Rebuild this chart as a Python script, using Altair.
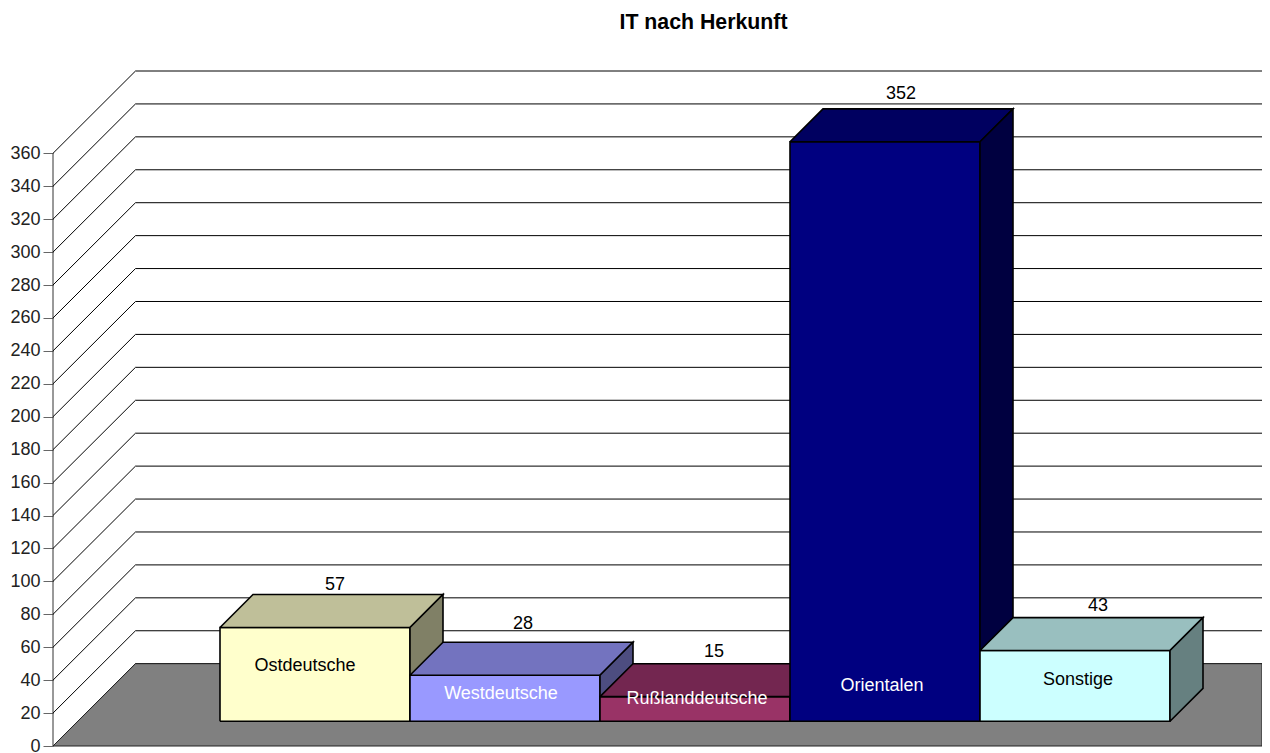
import altair as alt
import pandas as pd

FONT = "Liberation Sans"
title_text = "IT nach Herkunft"
categories = ["Ostdeutsche", "Westdeutsche", "Rußlanddeutsche", "Orientalen", "Sonstige"]
values = [57, 28, 15, 352, 43]
ticks = list(range(0, 361, 20))

front_colors = ["#FFFFCC", "#9999FF", "#993366", "#000080", "#CCFFFF"]
top_colors = ["#BFBF99", "#7373BF", "#732650", "#000060", "#99BFBF"]
side_colors = ["#808066", "#4D4D80", "#4D1A33", "#000040", "#668080"]
label_colors = ["black", "white", "white", "white", "black"]

# geometry of the pseudo-3D box, in data units
SLOT_PX = 190.0
W = 1209
X_MAX = W / SLOT_PX
H = 675
Y_MAX = 410
WALL_X = 82.5 / SLOT_PX
WALL_Y = 50
FIRST_BAR = 167 / SLOT_PX
BASE = 15
DEPTH_X = 33 / SLOT_PX
DEPTH_Y = 20
PX_Y = Y_MAX / H

# label placement (px offsets)
name_dx = [-10, -4, 2, -3, 3]
name_y_px = [80.5, 52.5, 47.5, 60.5, 66.5]
value_dx = [20, 18, 19, 16, 23]
value_lift_px = [10, 18, 11.5, 15, 12]

x_enc = alt.X("x:Q", axis=None, scale=alt.Scale(domain=[0, X_MAX], nice=False, zero=False))
y_scale = alt.Scale(domain=[0, Y_MAX], nice=False, zero=False)
y_enc = alt.Y(
    "y:Q",
    scale=y_scale,
    axis=alt.Axis(
        values=ticks, title=None, grid=False, domain=False, tickSize=10, tickWidth=1,
        tickColor="#666666", labelFontSize=18, labelFont=FONT, labelColor="#222222",
        labelPadding=3, labelFlush=False, labelOverlap=False,
    ),
)


def poly(points, color):
    pts = list(points) + [points[0]]
    df = pd.DataFrame({"x": [p[0] for p in pts], "y": [p[1] for p in pts], "i": range(len(pts))})
    return (
        alt.Chart(df)
        .mark_line(fill=color, stroke="black", strokeWidth=1.6, strokeJoin="miter", clip=False)
        .encode(x=x_enc, y=y_enc, order=alt.Order("i:Q"))
    )


layers = []

# side axis line
layers.append(
    alt.Chart(pd.DataFrame({"x": [0, 0], "y": [0, ticks[-1]], "i": [0, 1]}))
    .mark_line(stroke="#333333", strokeWidth=1)
    .encode(x=x_enc, y=y_enc, order=alt.Order("i:Q"))
)

# grid: slanted on the side wall, horizontal on the back wall
grid_rows = []
for t in ticks:
    grid_rows += [
        {"t": t, "i": 0, "x": 0, "y": t},
        {"t": t, "i": 1, "x": WALL_X, "y": t + WALL_Y},
        {"t": t, "i": 2, "x": X_MAX, "y": t + WALL_Y},
    ]
layers.append(
    alt.Chart(pd.DataFrame(grid_rows))
    .mark_line(stroke="black", strokeWidth=1)
    .encode(x=x_enc, y=y_enc, detail="t:N", order=alt.Order("i:Q"))
)

# floor
floor_df = pd.DataFrame(
    {"x": [0, WALL_X, X_MAX, X_MAX, 0], "y": [0, WALL_Y, WALL_Y, 0, 0], "i": range(5)}
)
layers.append(
    alt.Chart(floor_df)
    .mark_line(fill="#808080", stroke="#222222", strokeWidth=1)
    .encode(x=x_enc, y=y_enc, order=alt.Order("i:Q"))
)

# bars, left to right
for k, v in enumerate(values):
    x0 = FIRST_BAR + k
    x1 = x0 + 1
    y0 = BASE
    y1 = BASE + v
    layers.append(poly([(x0, y0), (x1, y0), (x1, y1), (x0, y1)], front_colors[k]))
    layers.append(
        poly([(x0, y1), (x1, y1), (x1 + DEPTH_X, y1 + DEPTH_Y), (x0 + DEPTH_X, y1 + DEPTH_Y)], top_colors[k])
    )
    layers.append(
        poly([(x1, y0), (x1 + DEPTH_X, y0 + DEPTH_Y), (x1 + DEPTH_X, y1 + DEPTH_Y), (x1, y1)], side_colors[k])
    )

# labels
name_df = pd.DataFrame(
    {
        "x": [FIRST_BAR + k + 0.5 + name_dx[k] / SLOT_PX for k in range(5)],
        "y": [p * PX_Y for p in name_y_px],
        "label": categories,
        "col": label_colors,
    }
)
value_df = pd.DataFrame(
    {
        "x": [FIRST_BAR + k + 0.5 + value_dx[k] / SLOT_PX for k in range(5)],
        "y": [BASE + values[k] + DEPTH_Y + value_lift_px[k] * PX_Y for k in range(5)],
        "label": [str(v) for v in values],
    }
)
layers.append(
    alt.Chart(name_df)
    .mark_text(font=FONT, fontSize=18, baseline="middle", align="center")
    .encode(x=x_enc, y=y_enc, text="label:N", color=alt.Color("col:N", scale=None))
)
layers.append(
    alt.Chart(value_df)
    .mark_text(font=FONT, fontSize=18, baseline="middle", align="center", color="black")
    .encode(x=x_enc, y=y_enc, text="label:N")
)

chart = (
    alt.layer(*layers)
    .properties(
        width=W,
        height=H,
        padding={"left": 45, "top": 63, "right": 0, "bottom": 6.5},
        autosize=alt.AutoSizeParams(type="none"),
        background="white",
        title=alt.TitleParams(
            title_text, font=FONT, fontSize=21.3, fontWeight="bold", color="black",
            anchor="middle", dx=46, offset=36,
        ),
    )
    .configure_view(stroke=None)
)

chart.save("out.html", embed_options={"renderer": "svg", "actions": False})
